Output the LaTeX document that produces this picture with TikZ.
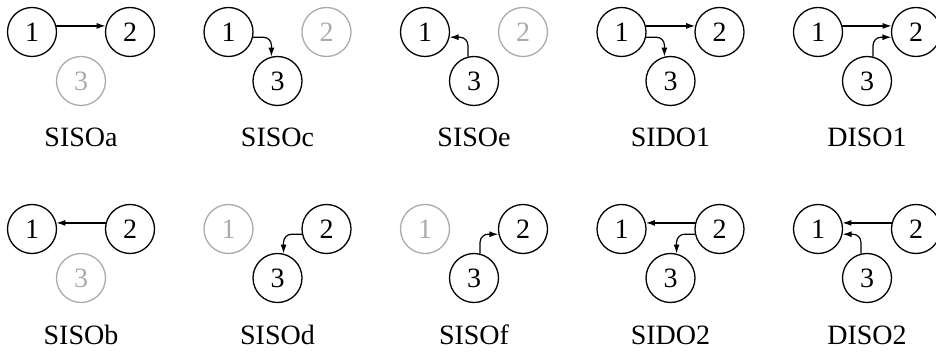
\documentclass[tikz,border=0pt]{standalone}
\usepackage{fontspec}
\setmainfont{Liberation Serif}
\usetikzlibrary{arrows.meta}
\begin{document}
\begin{tikzpicture}[x=1pt,y=-1pt,
  nd/.style={circle,draw,line width=1.3pt,minimum size=49pt,inner sep=0pt,font=\fontsize{28}{30}\selectfont},
  off/.style={draw=black!33,text=black!33},
  lab/.style={font=\fontsize{28}{30}\selectfont,anchor=base,inner sep=0pt},
  arr/.style={line width=1.2pt,-{Latex[length=9pt,width=6pt]},rounded corners=8pt}]
\useasboundingbox (0,0) rectangle (936,355);
% ---------- row 1 ----------
\begin{scope}[shift={(0,0)}]
  \node[nd] (a1) at (32,32) {1};
  \node[nd] (a2) at (130,32) {2};
  \node[nd,off] (a3) at (81,81) {3};
  \node[lab] (la) at (81,147) {SISOa};
  \draw[arr] (a1.14) -- (a2.166);
\end{scope}
\begin{scope}[shift={(196.5,0)}]
  \node[nd] (c1) at (32,32) {1};
  \node[nd,off] (c2) at (130,32) {2};
  \node[nd] (c3) at (81,81) {3};
  \node[lab] (lc) at (81,147) {SISOc};
  \draw[arr] (c1.-12) -| (c3.104);
\end{scope}
\begin{scope}[shift={(393,0)}]
  \node[nd] (e1) at (32,32) {1};
  \node[nd,off] (e2) at (130,32) {2};
  \node[nd] (e3) at (81,81) {3};
  \node[lab] (le) at (81,147) {SISOe};
  \draw[arr] (e3.104) |- (e1.-12);
\end{scope}
\begin{scope}[shift={(589.5,0)}]
  \node[nd] (g1) at (32,32) {1};
  \node[nd] (g2) at (130,32) {2};
  \node[nd] (g3) at (81,81) {3};
  \node[lab] (lg) at (81,147) {SIDO1};
  \draw[arr] (g1.14) -- (g2.166);
  \draw[arr] (g1.-12) -| (g3.104);
\end{scope}
\begin{scope}[shift={(786,0)}]
  \node[nd] (i1) at (32,32) {1};
  \node[nd] (i2) at (130,32) {2};
  \node[nd] (i3) at (81,81) {3};
  \node[lab] (li) at (81,147) {DISO1};
  \draw[arr] (i1.14) -- (i2.166);
  \draw[arr] (i3.76) |- (i2.192);
\end{scope}
% ---------- row 2 ----------
\begin{scope}[shift={(0,197)}]
  \node[nd] (b1) at (32,32) {1};
  \node[nd] (b2) at (130,32) {2};
  \node[nd,off] (b3) at (81,81) {3};
  \node[lab] (lb) at (81,147) {SISOb};
  \draw[arr] (b2.166) -- (b1.14);
\end{scope}
\begin{scope}[shift={(196.5,197)}]
  \node[nd,off] (d1) at (32,32) {1};
  \node[nd] (d2) at (130,32) {2};
  \node[nd] (d3) at (81,81) {3};
  \node[lab] (ld) at (81,147) {SISOd};
  \draw[arr] (d2.192) -| (d3.76);
\end{scope}
\begin{scope}[shift={(393,197)}]
  \node[nd,off] (f1) at (32,32) {1};
  \node[nd] (f2) at (130,32) {2};
  \node[nd] (f3) at (81,81) {3};
  \node[lab] (lf) at (81,147) {SISOf};
  \draw[arr] (f3.76) |- (f2.192);
\end{scope}
\begin{scope}[shift={(589.5,197)}]
  \node[nd] (h1) at (32,32) {1};
  \node[nd] (h2) at (130,32) {2};
  \node[nd] (h3) at (81,81) {3};
  \node[lab] (lh) at (81,147) {SIDO2};
  \draw[arr] (h2.166) -- (h1.14);
  \draw[arr] (h2.192) -| (h3.76);
\end{scope}
\begin{scope}[shift={(786,197)}]
  \node[nd] (j1) at (32,32) {1};
  \node[nd] (j2) at (130,32) {2};
  \node[nd] (j3) at (81,81) {3};
  \node[lab] (lj) at (81,147) {DISO2};
  \draw[arr] (j2.166) -- (j1.14);
  \draw[arr] (j3.104) |- (j1.-12);
\end{scope}
\end{tikzpicture}
\end{document}
